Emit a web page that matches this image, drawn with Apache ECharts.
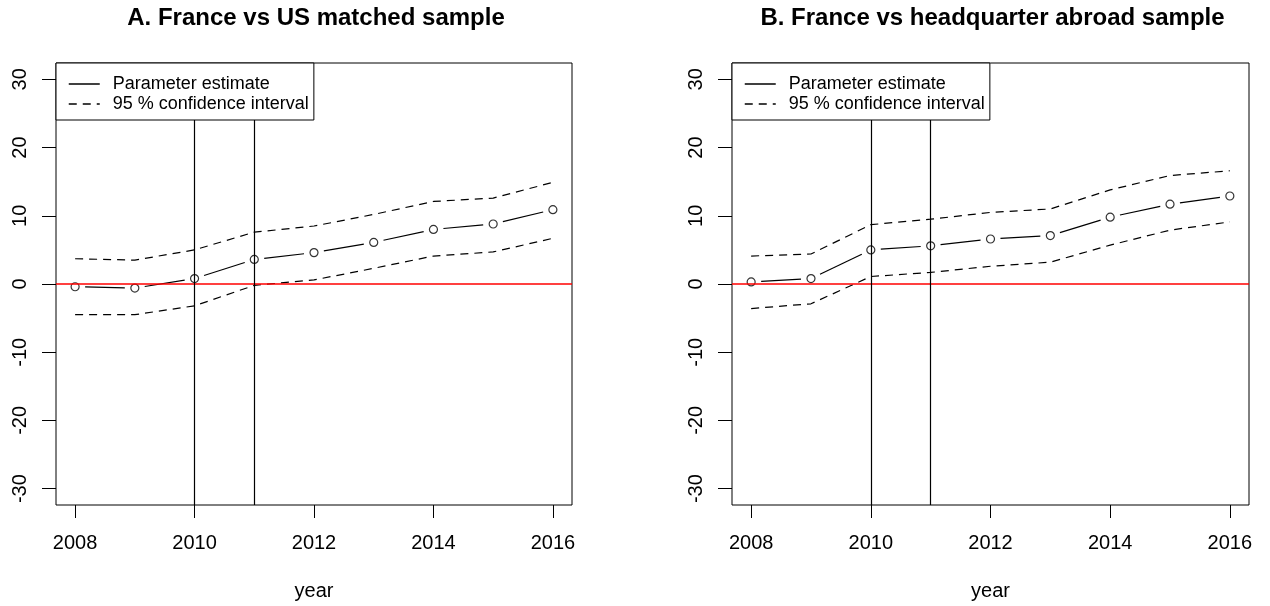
<!DOCTYPE html>
<html>
<head>
<meta charset="utf-8">
<script src="https://cdn.jsdelivr.net/npm/echarts@6/dist/echarts.min.js"></script>
<style>
html,body{margin:0;padding:0;background:#fff;}
#chart{width:1270px;height:606px;}
</style>
</head>
<body>
<div id="chart"></div>
<script>
// ---- data ----
const years = [2008, 2009, 2010, 2011, 2012, 2013, 2014, 2015, 2016];
const xTicks = [2008, 2010, 2012, 2014, 2016];
const yTicks = [-30, -20, -10, 0, 10, 20, 30];
const eventYears = [2010, 2011];
const titleA = 'A. France vs US matched sample';
const titleB = 'B. France vs headquarter abroad sample';
const estA   = [-0.4, -0.6, 0.8, 3.6, 4.6, 6.1, 8.0, 8.8, 10.9];
const upperA = [3.7, 3.5, 5.0, 7.6, 8.5, 10.2, 12.1, 12.6, 14.9];
const lowerA = [-4.5, -4.5, -3.2, -0.2, 0.6, 2.3, 4.1, 4.7, 6.7];
const estB   = [0.3, 0.8, 5.0, 5.6, 6.6, 7.1, 9.8, 11.7, 12.9];
const upperB = [4.1, 4.4, 8.7, 9.5, 10.5, 11.0, 13.8, 15.9, 16.6];
const lowerB = [-3.6, -2.9, 1.1, 1.7, 2.6, 3.2, 5.7, 7.9, 9.1];
const legendNames = ['Parameter estimate', '95 % confidence interval'];

// ---- build ----
const FONT = "'Liberation Sans', Arial, sans-serif";
const GAP = 10; // px gap around points (R type = "b")
const DASH = [8, 6];
const pairs = v => years.map((y, i) => [y, v[i]]);
const segs = v => years.slice(0, -1).map((y, i) => [y, v[i], years[i + 1], v[i + 1]]);
const panels = [
  {left: 56, width: 516, est: estA, up: upperA, lo: lowerA, title: titleA},
  {left: 732, width: 517, est: estB, up: upperB, lo: lowerB, title: titleB}
];

function gapSegment(params, api) {
  const a = api.coord([api.value(0), api.value(1)]);
  const b = api.coord([api.value(2), api.value(3)]);
  const dx = b[0] - a[0], dy = b[1] - a[1];
  const g = GAP / Math.hypot(dx, dy);
  return {type: 'line',
    shape: {x1: a[0] + dx * g, y1: a[1] + dy * g, x2: b[0] - dx * g, y2: b[1] - dy * g},
    style: {stroke: '#000', lineWidth: 1.2, fill: null}};
}

const grid = [], xAxis = [], yAxis = [], series = [], title = [], legend = [];
panels.forEach((p, k) => {
  const sfx = k ? '\u200b' : '';
  grid.push({left: p.left, top: 63, width: p.width, height: 445, show: true,
    borderColor: '#000', borderWidth: 1, backgroundColor: 'transparent'});
  xAxis.push({type: 'value', gridIndex: k, min: 2007.68, max: 2016.32,
    name: 'year', nameLocation: 'middle', nameGap: 76,
    nameTextStyle: {fontFamily: FONT, fontSize: 20, color: '#000'},
    axisLine: {show: false, onZero: false}, splitLine: {show: false},
    axisTick: {show: true, length: 13, customValues: xTicks, lineStyle: {color: '#000', width: 1}},
    axisLabel: {customValues: xTicks, margin: 28, fontFamily: FONT, fontSize: 20, color: '#000', formatter: v => String(v)}
  });
  yAxis.push({type: 'value', gridIndex: k, min: -32.4, max: 32.4,
    axisLine: {show: false, onZero: false}, splitLine: {show: false},
    axisTick: {show: true, length: 14, customValues: yTicks, lineStyle: {color: '#000', width: 1}},
    axisLabel: {customValues: yTicks, rotate: 90, margin: 26, fontFamily: FONT, fontSize: 20, color: '#000'}
  });
  title.push({text: p.title, left: p.left + p.width / 2 - 3, top: 1, textAlign: 'center',
    textStyle: {fontFamily: FONT, fontSize: 24, fontWeight: 'bold', color: '#000'}});
  legend.push({show: true, z: 20, zlevel: 0, left: p.left, top: 63, orient: 'vertical',
    data: [
      {name: legendNames[0] + sfx, lineStyle: {color: '#000', width: 1.5, type: 'solid', opacity: 1}},
      {name: legendNames[1] + sfx, lineStyle: {color: '#000', width: 1.5, type: DASH, opacity: 1}}
    ],
    backgroundColor: '#fff', borderColor: '#000', borderWidth: 1,
    padding: [12, 5, 7, 12], itemGap: 2, itemWidth: 31, itemHeight: 18,
    itemStyle: {color: 'rgba(0,0,0,0)', borderWidth: 0, opacity: 0},
    textStyle: {fontFamily: FONT, fontSize: 18, color: '#000', padding: [0, 0, 0, 8]},
    selectedMode: false
  });
  // invisible line carrying the legend entry for the estimate
  series.push({type: 'line', name: legendNames[0] + sfx, xAxisIndex: k, yAxisIndex: k,
    data: pairs(p.est), symbol: 'none', z: 1, silent: true,
    lineStyle: {color: '#000', width: 1.2, type: 'solid', opacity: 0}});
  // visible estimate segments with gaps at the points
  series.push({type: 'custom', name: 'estSeg' + k, xAxisIndex: k, yAxisIndex: k,
    data: segs(p.est), encode: {x: [0, 2], y: [1, 3]}, renderItem: gapSegment, z: 2, silent: true});
  series.push({type: 'line', name: legendNames[1] + sfx, xAxisIndex: k, yAxisIndex: k,
    data: pairs(p.up), symbol: 'none', z: 3, silent: true,
    lineStyle: {color: '#000', width: 1.2, type: DASH}});
  series.push({type: 'line', name: legendNames[1] + sfx, xAxisIndex: k, yAxisIndex: k,
    data: pairs(p.lo), symbol: 'none', z: 3, silent: true,
    lineStyle: {color: '#000', width: 1.2, type: DASH}});
  series.push({type: 'scatter', name: 'pts' + k, xAxisIndex: k, yAxisIndex: k,
    data: pairs(p.est), symbol: 'circle', symbolSize: 8, z: 4, silent: true,
    itemStyle: {color: '#fff', borderColor: '#000', borderWidth: 1.2}});
  series.push({type: 'line', name: 'ref' + k, xAxisIndex: k, yAxisIndex: k, data: [], z: 5,
    markLine: {silent: true, symbol: 'none', label: {show: false}, animation: false,
      data: [
        {yAxis: 0, lineStyle: {color: '#ff0000', width: 1.5, type: 'solid'}}
      ].concat(eventYears.map(y => ({xAxis: y, lineStyle: {color: '#000', width: 1.2, type: 'solid'}})))
    }});
});

const chart = echarts.init(document.getElementById('chart'));
chart.setOption({animation: false, backgroundColor: '#fff', title, legend, grid, xAxis, yAxis, series});
</script>
</body>
</html>
